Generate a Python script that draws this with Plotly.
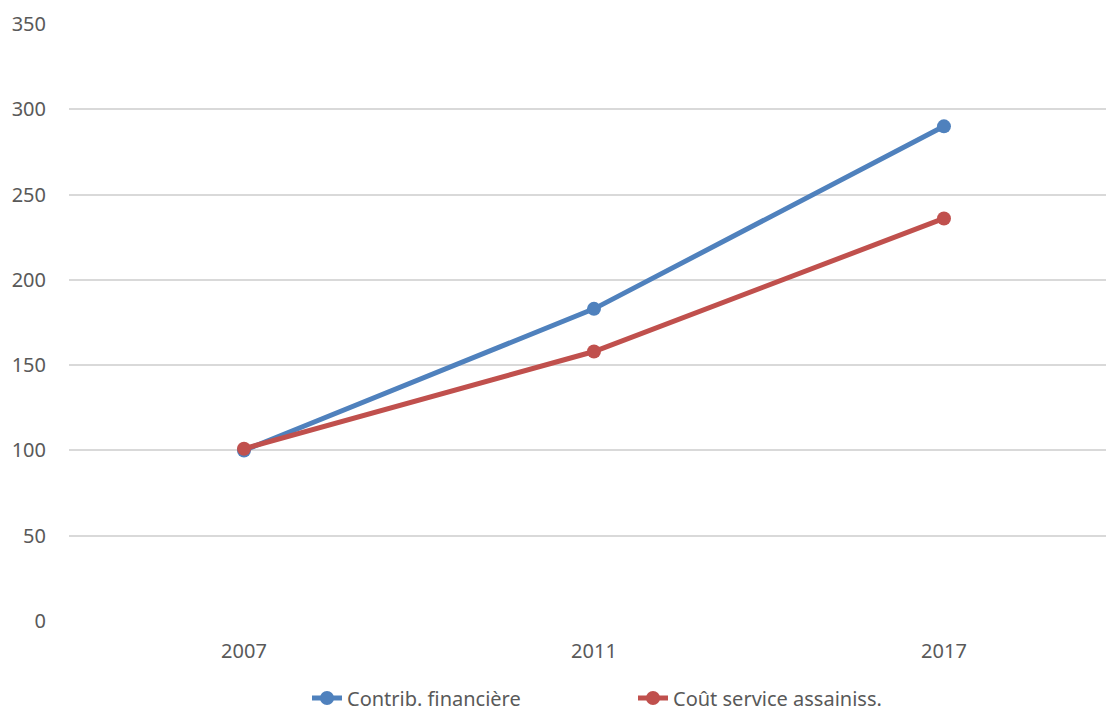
import plotly.graph_objects as go

years = ["2007", "2011", "2017"]
contrib_financiere = [100, 183, 290]
cout_service = [101, 158, 236]
y_ticks = [0, 50, 100, 150, 200, 250, 300, 350]

BLUE = "#4F81BD"
RED = "#C0504D"
FONT = "Noto Sans, Open Sans, sans-serif"

fig = go.Figure()
fig.add_trace(go.Scatter(
    x=years, y=contrib_financiere, name="Contrib. financière",
    mode="lines+markers",
    line=dict(color=BLUE, width=5),
    marker=dict(color=BLUE, size=14),
))
fig.add_trace(go.Scatter(
    x=years, y=cout_service, name="Coût service assainiss.",
    mode="lines+markers",
    line=dict(color=RED, width=5),
    marker=dict(color=RED, size=14),
))

fig.update_layout(
    width=1106, height=713,
    margin=dict(l=69, r=0, t=24, b=92),
    paper_bgcolor="white", plot_bgcolor="white",
    font=dict(family=FONT, size=20, color="#595959"),
    showlegend=True,
    legend=dict(
        orientation="h", x=307 / 1106, xanchor="left", xref="container",
        y=15 / 713, yanchor="middle", yref="container",
        font=dict(size=20, color="#595959"),
        entrywidth=281, entrywidthmode="pixels",
        traceorder="normal",
    ),
    xaxis=dict(
        type="category", range=[-0.5, 2.463],
        showgrid=False, zeroline=False,
        showline=False, ticks="", ticklabelstandoff=16,
    ),
    yaxis=dict(
        range=[0, 350], tickvals=y_ticks,
        showgrid=True, gridcolor="#D9D9D9", gridwidth=1.5,
        zeroline=False, showline=False, ticks="",
        ticklabelstandoff=22,
    ),
)

fig.write_html("out.html")
